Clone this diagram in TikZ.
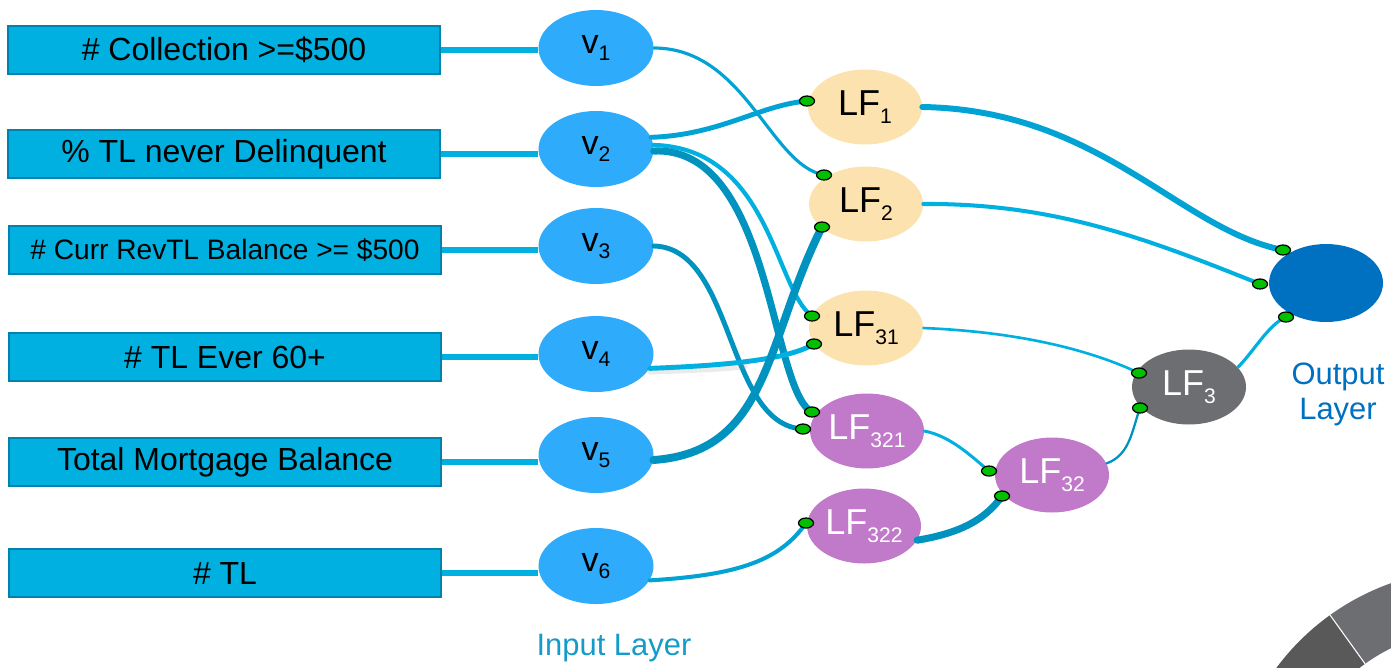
\documentclass[tikz,border=0pt]{standalone}
\usepackage{fontspec}
\setmainfont{Liberation Sans}
\usetikzlibrary{shapes.geometric}

\definecolor{boxfill}{HTML}{00B0E0}
\definecolor{boxline}{HTML}{0082AC}
\definecolor{vfill}{HTML}{2EABFA}
\definecolor{peach}{HTML}{FCE2AE}
\definecolor{purp}{HTML}{C07AC9}
\definecolor{lfgrey}{HTML}{6D6E71}
\definecolor{outblue}{HTML}{0070C0}
\definecolor{dotgreen}{HTML}{00C000}
\definecolor{wire}{HTML}{00B0E0}
\definecolor{wiremid}{HTML}{00A3D3}
\definecolor{wiredark}{HTML}{0093BF}
\definecolor{inlabel}{HTML}{159BC9}
\definecolor{ringdark}{HTML}{595959}
\definecolor{ringlight}{HTML}{6D6E71}

\newcommand\boxfont{\fontsize{18.2}{21}\selectfont}
\newcommand\smallboxfont{\fontsize{16}{19}\selectfont}
\newcommand\vfont{\fontsize{19.4}{22}\selectfont}
\newcommand\lffont{\fontsize{20.5}{23}\selectfont}
\newcommand\layerfont{\fontsize{17.6}{20}\selectfont}
\newcommand\sub[1]{\raisebox{-4.4pt}{\fontsize{12}{12}\selectfont#1}}

\begin{document}
\begin{tikzpicture}[x=0.02cm,y=-0.02cm,
  inbox/.style={draw=boxline,fill=boxfill,line width=1.4pt,minimum width=8.64cm,
    minimum height=0.96cm,inner sep=0pt,font=\boxfont},
  vnode/.style={ellipse,fill=vfill,minimum width=2.3cm,minimum height=1.52cm,
    inner sep=0pt,font=\vfont},
  lfnode/.style={ellipse,minimum width=2.28cm,minimum height=1.5cm,inner sep=0pt,font=\lffont},
  lfpeach/.style={lfnode,fill=peach,text=black},
  lfpurple/.style={lfnode,fill=purp,text=white},
  lfgreynode/.style={lfnode,fill=lfgrey,text=white},
  outnode/.style={ellipse,fill=outblue,minimum width=2.28cm,minimum height=1.56cm,inner sep=0pt},
  gdot/.style={ellipse,draw=black,fill=dotgreen,line width=0.7pt,minimum width=0.3cm,
    minimum height=0.2cm,inner sep=0pt},
  conn/.style={line cap=round},
  feed/.style={wire,line width=3.2pt}
]
\useasboundingbox (0,0) rectangle (1391,667);

% decorative ring segment in the lower right corner
\begin{scope}
  \clip (0,0) rectangle (1391,667);
  \begin{scope}[shift={(1473,814)}]
    \fill[ringdark] plot[domain=195:234.3,samples=40] (\x:245)
      -- plot[domain=234.3:195,samples=40] (\x:185) -- cycle;
    \fill[ringlight] plot[domain=234.3:290,samples=40] (\x:245)
      -- plot[domain=290:234.3,samples=40] (\x:185) -- cycle;
    \draw[white,line width=0.6pt] (234.3:185) -- (234.3:245);
  \end{scope}
\end{scope}

% input boxes
\node[inbox] (b1) at (224,50)  {\# Collection >=\$500};
\node[inbox] (b2) at (224,154) {\% TL never Delinquent};
\node[inbox,font=\smallboxfont] (b3) at (225,250) {\# Curr RevTL Balance >= \$500};
\node[inbox] (b4) at (225,357) {\# TL Ever 60+};
\node[inbox] (b5) at (225,462) {Total Mortgage Balance};
\node[inbox] (b6) at (225,573) {\# TL};

% input layer
\node[vnode] (v1) at (596,48)  {v\sub{1}};
\node[vnode] (v2) at (596,149) {v\sub{2}};
\node[vnode] (v3) at (596,246) {v\sub{3}};
\node[vnode] (v4) at (596,354) {v\sub{4}};
\node[vnode] (v5) at (596,455) {v\sub{5}};
\node[vnode] (v6) at (596,566) {v\sub{6}};

% latent factors
\node[lfpeach] (lf1) at (865,107) {LF\sub{1}};
\node[lfpeach] (lf2) at (866,204) {LF\sub{2}};
\node[lfpeach] (lf31) at (866,328) {LF\sub{31}};
\node[lfpurple] (lf321) at (867,431) {LF\sub{321}};
\node[lfpurple] (lf322) at (864,526) {LF\sub{322}};
\node[lfpurple] (lf32) at (1052,475) {LF\sub{32}};
\node[lfgreynode] (lf3) at (1189,387) {LF\sub{3}};
\node[outnode] (out) at (1326,283) {};

% layer captions
\node[text=inlabel,font=\layerfont] (inlbl) at (614,648) {Input Layer};
\node[text=outblue,font=\layerfont,align=center] (outlbl) at (1338,394) {Output\\Layer};

% input ports
\coordinate (p1a)   at (807,101);
\coordinate (p2a)   at (824,175);
\coordinate (p2b)   at (822,227);
\coordinate (p31a)  at (812,316);
\coordinate (p31b)  at (814,344);
\coordinate (p321a) at (812,412);
\coordinate (p321b) at (803,429);
\coordinate (p322a) at (806,523);
\coordinate (p32a)  at (989,471);
\coordinate (p32b)  at (1002,496);
\coordinate (p3a)   at (1139,373);
\coordinate (p3b)   at (1140,408);
\coordinate (poa)   at (1283,250);
\coordinate (pob)   at (1260,284);
\coordinate (poc)   at (1286,317);

% boxes to input nodes
\foreach \i in {1,...,6}
  \draw[feed] (b\i.east) -- (b\i.east -| v\i.west);

% input nodes to latent factors
\draw[conn,wiremid,line width=1.8pt] (v1.east) .. controls (745,48) and (770,165) .. (p2a);
\draw[conn,wiremid,line width=2.8pt] (v2.12) .. controls (720,135) and (760,105) .. (p1a);
\draw[conn,wire,line width=2.4pt] (v2.4) .. controls (770,148) and (775,290) .. (p31a);
\draw[conn,wiredark,line width=4pt] (v2.-2) .. controls (772,146) and (770,390) .. (p321a);
\draw[conn,wiredark,line width=2.8pt] (v3.east) .. controls (735,248) and (725,425) .. (p321b);
\draw[conn,black!40,opacity=0.2,line width=3pt,transform canvas={yshift=-2pt}]
  (v4.-15) .. controls (690,367) and (720,366) .. (745,363);
\draw[conn,wire,line width=2.8pt] (v4.-15) .. controls (740,365) and (790,358) .. (p31b);
\draw[conn,wiredark,line width=4.5pt] (v5.-5) .. controls (770,452) and (765,340) .. (p2b);
\draw[conn,wiremid,line width=2.3pt] (v6.-15) .. controls (740,575) and (780,560) .. (p322a);

% latent factors to upper levels
\draw[conn,wiremid,line width=3.4pt] (lf1.east) .. controls (1100,110) and (1180,230) .. (poa);
\draw[conn,wire,line width=2.3pt] (lf2.east) .. controls (1056,203) and (1150,240) .. (pob);
\draw[conn,wire,line width=1.5pt] (lf31.east) .. controls (1020,332) and (1090,350) .. (p3a);
\draw[conn,wire,line width=1.7pt] (lf321.east) .. controls (950,436) and (970,455) .. (p32a);
\draw[conn,wiredark,line width=4pt] (lf322.-15) .. controls (960,533) and (985,520) .. (p32b);
\draw[conn,wiredark,line width=1.3pt] (lf32.12) .. controls (1130,455) and (1132,430) .. (p3b);
\draw[conn,wire,line width=1.8pt] (lf3.22) .. controls (1255,350) and (1268,325) .. (poc);

% port markers
\foreach \p in {p1a,p2a,p2b,p31a,p31b,p321a,p321b,p322a,p32a,p32b,p3a,p3b,poa,pob,poc}
  \node[gdot] at (\p) {};
\end{tikzpicture}
\end{document}
